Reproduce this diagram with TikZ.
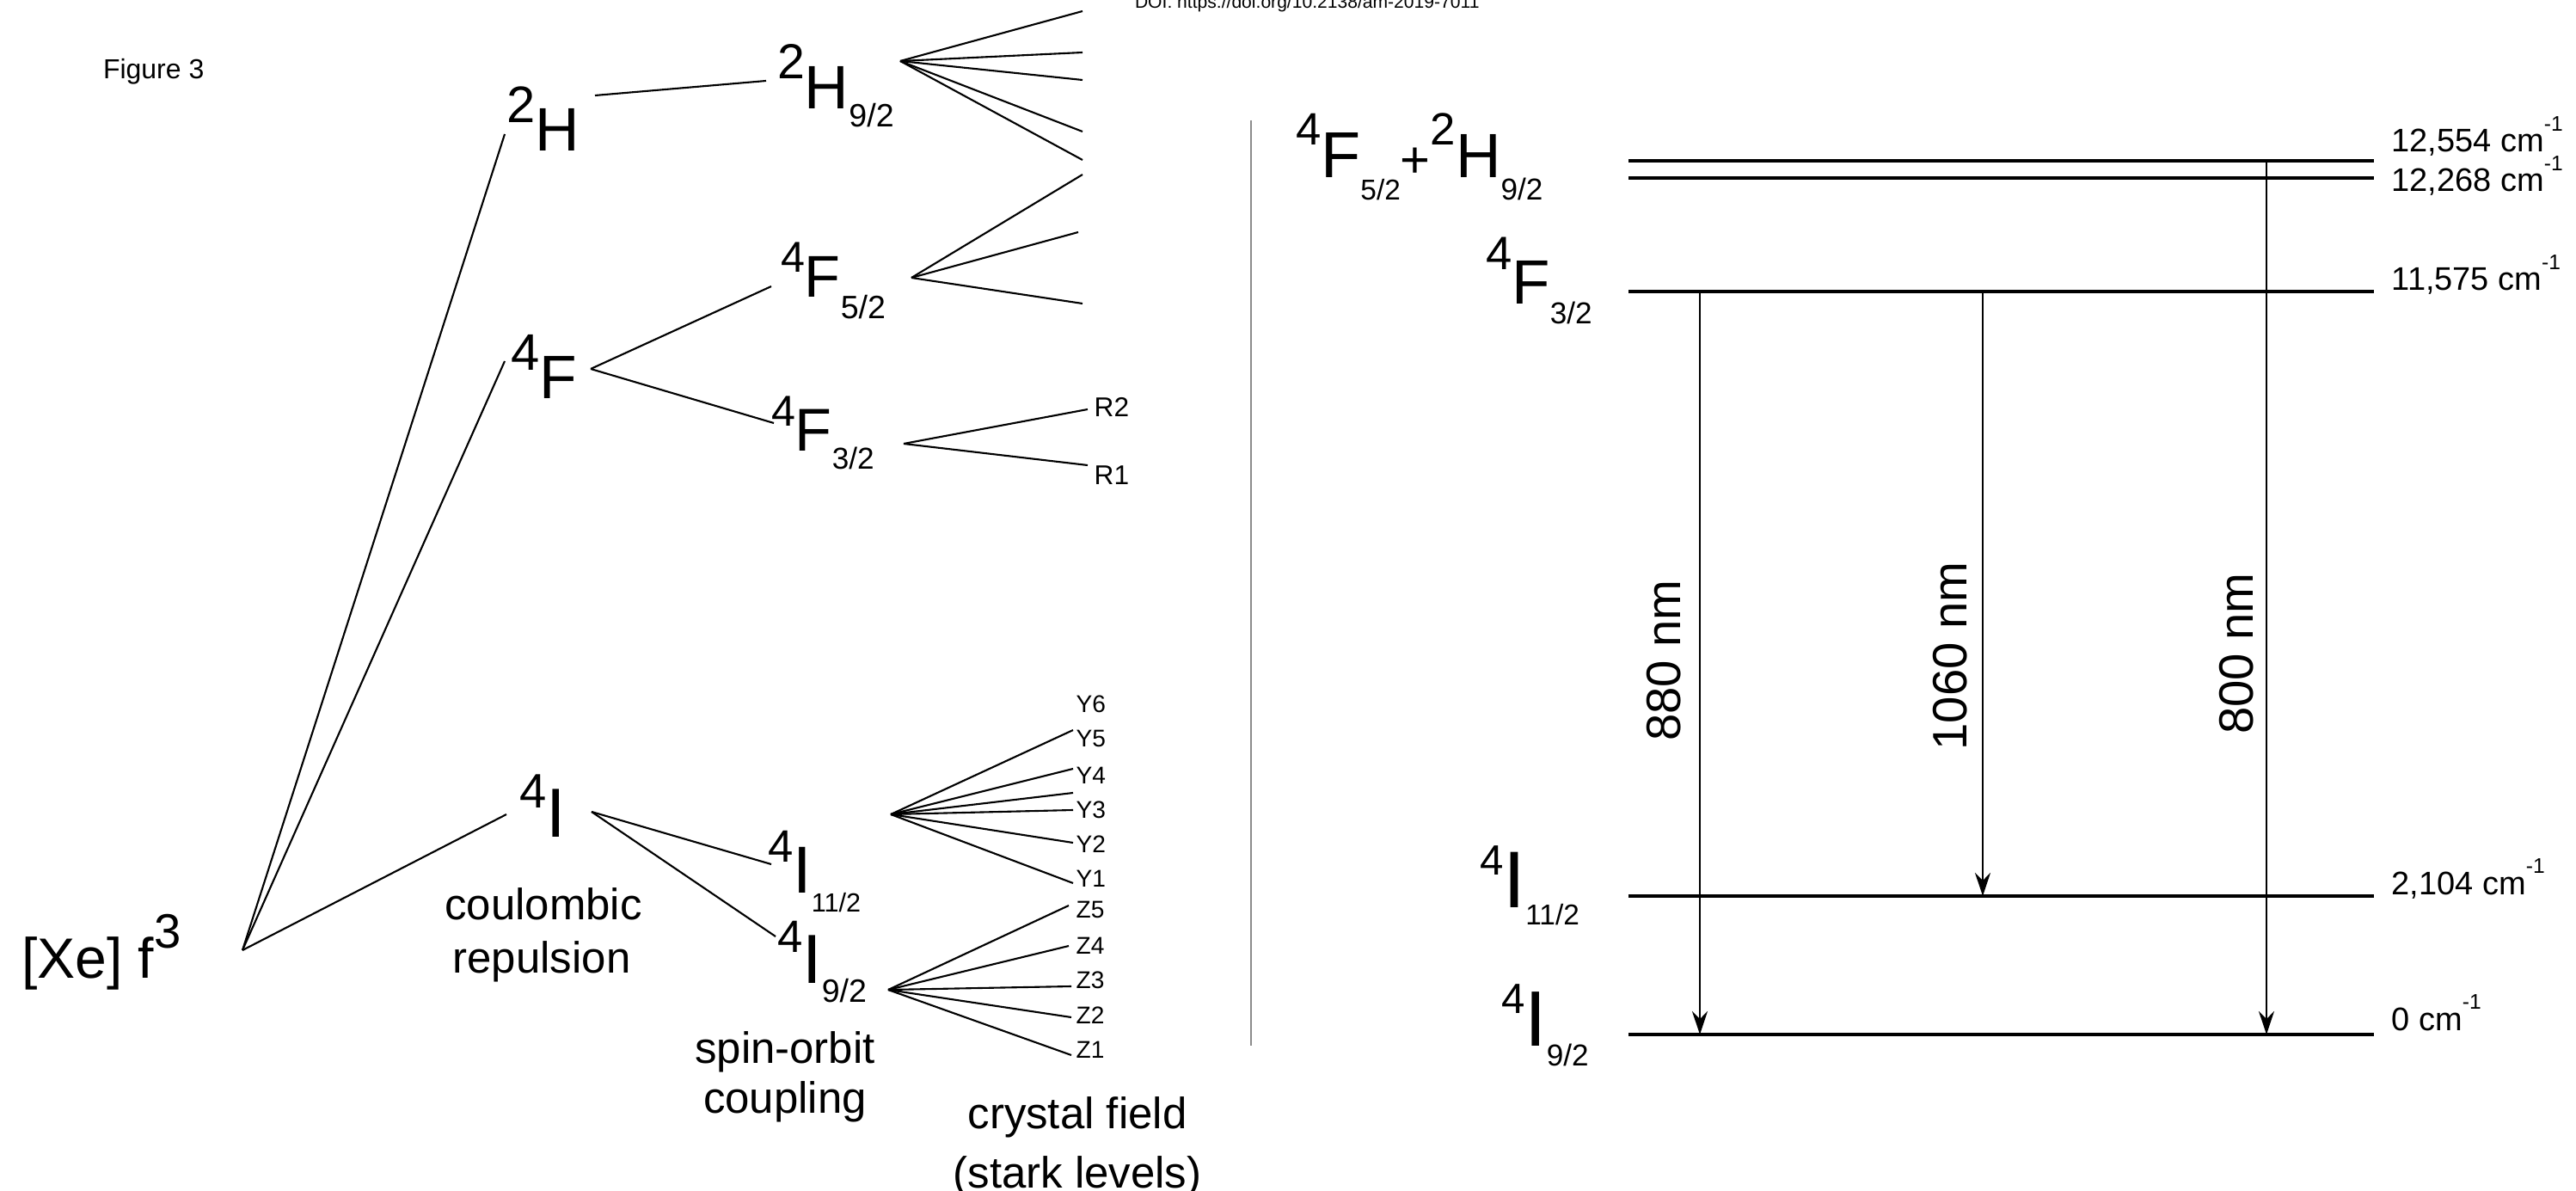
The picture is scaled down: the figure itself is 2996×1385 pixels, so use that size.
\documentclass[tikz,border=0pt]{standalone}
\usepackage{fontspec}
\setmainfont{Liberation Sans}
\usetikzlibrary{arrows.meta}
\newcommand{\fs}[1]{\fontsize{#1}{#1}\selectfont}
\newcommand{\up}[3]{\raisebox{#2}{\fs{#1}#3}}
\newcommand{\dn}[3]{\raisebox{-#2}{\fs{#1}#3}}
\begin{document}
\begin{tikzpicture}[x=0.1mm,y=-0.1mm,
  lbl/.style={inner sep=0pt, outer sep=0pt, anchor=base west},
  tree/.style={line width=0.6pt},
  levelline/.style={line width=1.3pt},
  trans/.style={line width=0.7pt, -{Stealth[length=2.7mm,width=1.8mm,inset=0.9mm]}},
  note/.style={inner sep=0pt, anchor=base, font=\fs{14.5}},
  val/.style={inner sep=0pt, anchor=base west, font=\fs{10.8}},
  stark/.style={inner sep=0pt, anchor=west, font=\fs{8}},
  wl/.style={inner sep=0pt, rotate=90, font=\fs{16}}
]
\useasboundingbox (0,0) rectangle (2996,1385);
\clip (0,0) rectangle (2996,1385);

% header texts
\node[lbl, font=\fs{6}] (doi) at (1320,10) {DOI: https://doi.org/10.2138/am-2019-7011};
\node[lbl, font=\fs{9.1}] (fig) at (120,92) {Figure 3};

% ---------- left: splitting tree ----------
\node[lbl] (xe) at (25,1137) {\fs{18.8}[Xe] f\up{16}{9.7pt}{3}};
\node[lbl] (H) at (589,176) {\up{17}{9.4pt}{2}\fs{20.3}H};
\node[lbl] (F) at (594,464) {\up{17}{9.4pt}{4}\fs{20.3}F};
\node[lbl] (I) at (604,973) {\up{16}{9.4pt}{4}\fs{23}I};
\node[lbl] (H92) at (904,127) {\up{16.3}{10pt}{2}\fs{20.3}H\dn{10.7}{5.7pt}{9/2}};
\node[lbl] (F52) at (908,346) {\up{14.3}{8.3pt}{4}\fs{19.5}F\dn{10.7}{7pt}{5/2}};
\node[lbl] (F32) at (897,525) {\up{14.3}{8.3pt}{4}\fs{20}F\dn{10}{5.7pt}{3/2}};
\node[lbl] (I112) at (893,1038) {\up{15}{10.2pt}{4}\fs{22}I\dn{8.7}{6.3pt}{11/2}};
\node[lbl] (I92) at (904,1143) {\up{15}{10.2pt}{4}\fs{23}I\dn{10.7}{6.3pt}{9/2}};

\node[note] (cr1) at (632,1069) {coulombic};
\node[note] (cr2) at (630,1131) {repulsion};
\node[note] (so1) at (913,1236) {spin-orbit};
\node[note] (so2) at (913,1294) {coupling};
\node[note] (cf1) at (1253,1312) {crystal field};
\node[note] (cf2) at (1253,1381) {(stark levels)};

% stark level labels
\node[stark, font=\fs{9}] (R2) at (1272,473) {R2};
\node[stark, font=\fs{9}] (R1) at (1272,553) {R1};
\node[stark] (Y6) at (1251,819) {Y6};
\node[stark] (Y5) at (1251,859) {Y5};
\node[stark] (Y4) at (1251,902) {Y4};
\node[stark] (Y3) at (1251,942) {Y3};
\node[stark] (Y2) at (1251,982) {Y2};
\node[stark] (Y1) at (1251,1022) {Y1};
\node[stark] (Z5) at (1251,1058) {Z5};
\node[stark] (Z4) at (1251,1100) {Z4};
\node[stark] (Z3) at (1251,1140) {Z3};
\node[stark] (Z2) at (1251,1181) {Z2};
\node[stark] (Z1) at (1251,1221) {Z1};

% connector points
\coordinate (v0) at (282,1105);
\coordinate (Hin) at (587,156);  \coordinate (Hout) at (692,111);
\coordinate (Fin) at (587,420);  \coordinate (Fout) at (687,429);
\coordinate (Iin) at (589,947);  \coordinate (Iout) at (688,944);
\coordinate (H92in) at (891,94); \coordinate (H92v) at (1047,71);
\coordinate (F52in) at (897,333); \coordinate (F52v) at (1060,323);
\coordinate (F32in) at (900,492); \coordinate (F32v) at (1051,516);
\coordinate (I112in) at (897,1005); \coordinate (I112v) at (1036,947);
\coordinate (I92in) at (902,1089); \coordinate (I92v) at (1033,1151);

\draw[tree] (v0) -- (Hin);
\draw[tree] (v0) -- (Fin);
\draw[tree] (v0) -- (Iin);
\draw[tree] (Hout) -- (H92in);
\draw[tree] (Fout) -- (F52in);
\draw[tree] (Fout) -- (F32in);
\draw[tree] (Iout) -- (I112in);
\draw[tree] (Iout) -- (I92in);

% fans
\foreach \y [count=\i] in {13,61,93,153,186} {
  \coordinate (h\i) at (1259,\y);
  \draw[tree] (H92v) -- (h\i);
}
\coordinate (f1) at (1259,203);
\coordinate (f2) at (1254,270);
\coordinate (f3) at (1259,353);
\foreach \i in {1,2,3} \draw[tree] (F52v) -- (f\i);
\coordinate (r2) at (1265,476);
\coordinate (r1) at (1265,541);
\draw[tree] (F32v) -- (r2);
\draw[tree] (F32v) -- (r1);
\foreach \y [count=\i] in {849,894,922,942,980,1027} {
  \coordinate (y\i) at (1248,\y);
  \draw[tree] (I112v) -- (y\i);
}
\foreach \x/\y [count=\i] in {1243/1053,1243/1100,1246/1147,1246/1183,1246/1227} {
  \coordinate (z\i) at (\x,\y);
  \draw[tree] (I92v) -- (z\i);
}

% divider
\coordinate (dtop) at (1455,140);
\coordinate (dbot) at (1455,1216);
\draw[line width=0.7pt, black!45] (dtop) -- (dbot);

% ---------- right: energy level diagram ----------
\node[lbl] (RFH) at (1507,207) {\up{15}{11pt}{4}\fs{21.5}F\dn{9.5}{7.4pt}{5/2}{\fs{17}+}\up{15}{11pt}{2}\fs{20.7}H\dn{10}{7.4pt}{9/2}};
\node[lbl] (RF32) at (1728,354) {\up{15.5}{11.4pt}{4}\fs{20.7}F\dn{10}{6.5pt}{3/2}};
\node[lbl] (RI112) at (1721,1055) {\up{14}{10.8pt}{4}\fs{26.6}I\dn{9.5}{5.7pt}{11/2}};
\node[lbl] (RI92) at (1746,1216) {\up{14}{10.8pt}{4}\fs{26}I\dn{10}{6.8pt}{9/2}};

\foreach \n/\y in {a/187,b/207,c/339,d/1042,e/1203} {
  \coordinate (L\n w) at (1894,\y);
  \coordinate (L\n e) at (2761,\y);
  \draw[levelline] (L\n w) -- (L\n e);
}

\node[val] (va) at (2781,177) {12,554 cm\up{7}{7pt}{-1}};
\node[val] (vb) at (2781,223) {12,268 cm\up{7}{7pt}{-1}};
\node[val] (vc) at (2781,338) {11,575 cm\up{7}{7pt}{-1}};
\node[val] (vd) at (2781,1040) {2,104 cm\up{7}{7pt}{-1}};
\node[val] (ve) at (2781,1198) {0 cm\up{7}{7pt}{-1}};

% transitions
\coordinate (t1s) at (1977,339);  \coordinate (t1e) at (1977,1203);
\coordinate (t2s) at (2306,339);  \coordinate (t2e) at (2306,1042);
\coordinate (t3s) at (2636,187);  \coordinate (t3e) at (2636,1203);
\draw[trans] (t1s) -- (t1e);
\draw[trans] (t2s) -- (t2e);
\draw[trans] (t3s) -- (t3e);
\node[wl] (w1) at (1935,768) {880 nm};
\node[wl] (w2) at (2268,763) {1060 nm};
\node[wl] (w3) at (2601,760) {800 nm};
\end{tikzpicture}
\end{document}
